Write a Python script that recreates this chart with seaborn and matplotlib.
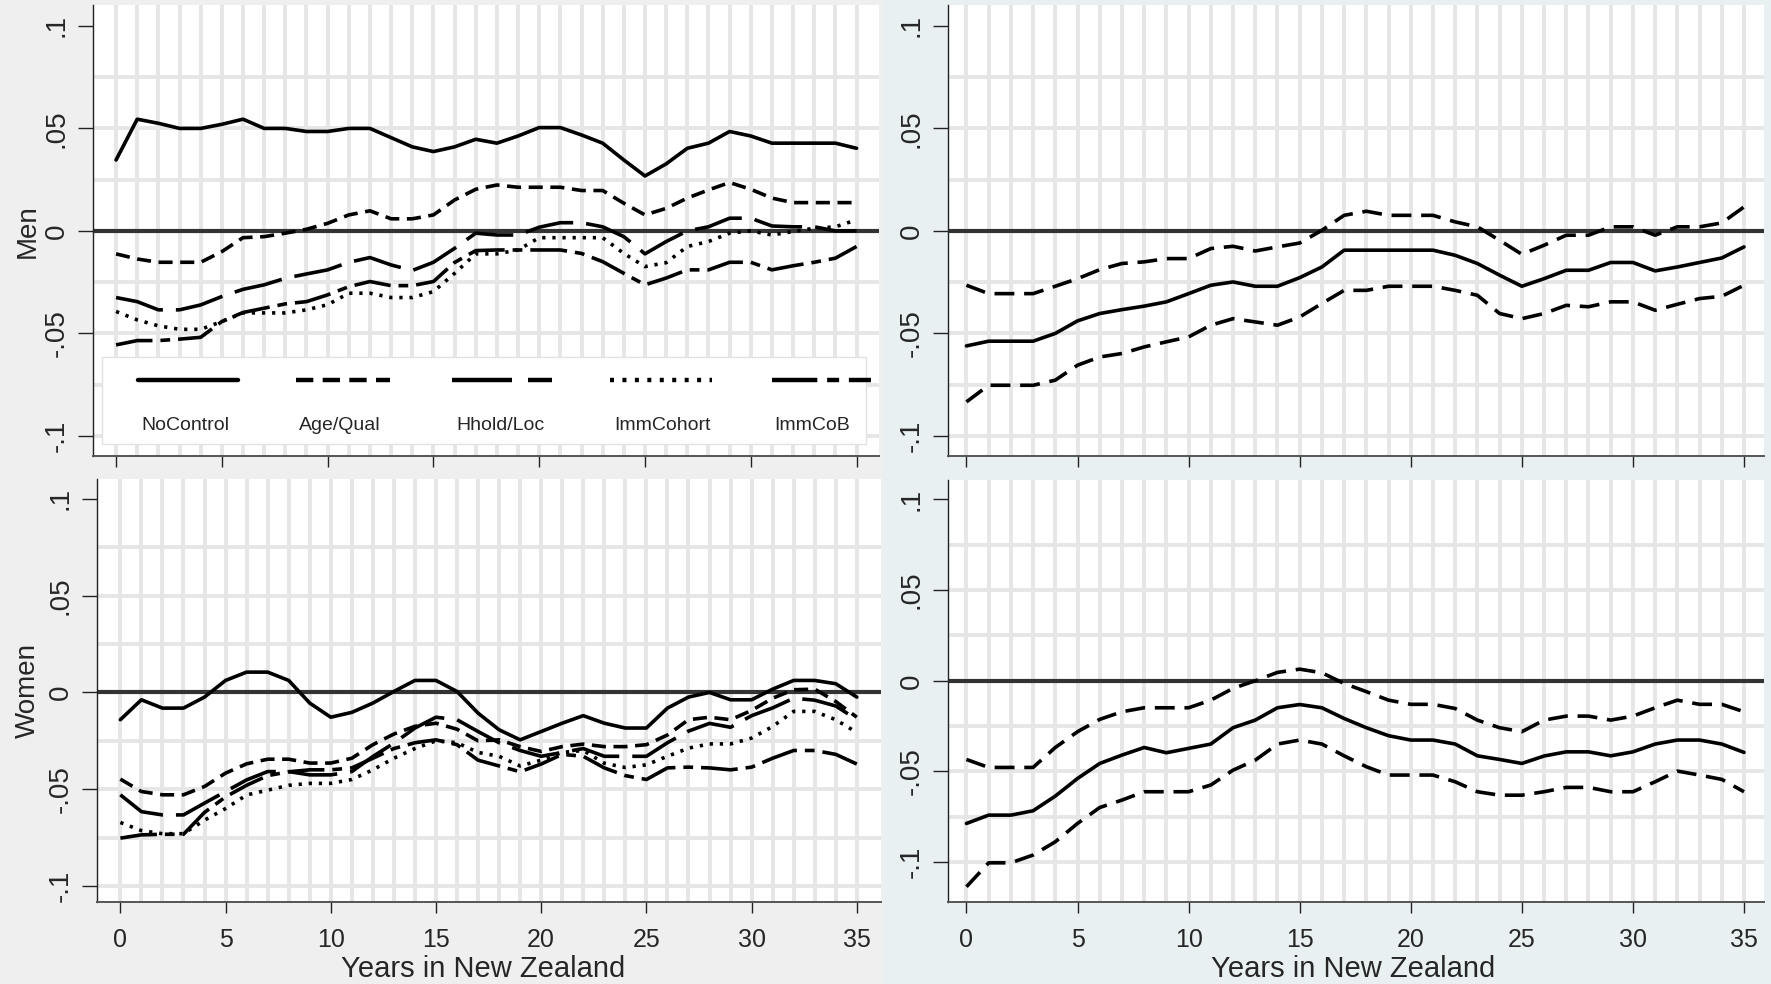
import matplotlib
matplotlib.use("Agg")
import matplotlib.pyplot as plt
import numpy as np
import pandas as pd
import seaborn as sns
from matplotlib.lines import Line2D
from matplotlib.patches import Rectangle

# values (years 0..35)
years = list(range(36))
models = ["NoControl", "Age/Qual", "Hhold/Loc", "ImmCohort", "ImmCoB"]

men_nocontrol = [0.0346, 0.0545, 0.0525, 0.050, 0.050, 0.052, 0.0545, 0.050, 0.050, 0.0485, 0.0485, 0.050,
                 0.050, 0.0455, 0.041, 0.0387, 0.041, 0.0447, 0.0428, 0.0463, 0.0504, 0.0504, 0.0468, 0.0428,
                 0.0346, 0.0268, 0.0327, 0.0403, 0.0428, 0.0485, 0.0463, 0.0428, 0.0428, 0.0428, 0.0428, 0.0403]
men_agequal = [-0.0112, -0.0137, -0.0153, -0.0153, -0.0153, -0.0101, -0.0033, -0.0028, -0.0011, 0.0008, 0.0037, 0.0078,
               0.0098, 0.0059, 0.0059, 0.0078, 0.0151, 0.0203, 0.0224, 0.0213, 0.0213, 0.0213, 0.0197, 0.0197,
               0.0135, 0.0078, 0.011, 0.016, 0.020, 0.0236, 0.0203, 0.016, 0.0138, 0.0138, 0.0138, 0.0138]
men_hholdloc = [-0.0325, -0.0345, -0.0385, -0.0385, -0.0361, -0.032, -0.0285, -0.0263, -0.0231, -0.021, -0.019, -0.0153,
                -0.013, -0.0166, -0.0193, -0.0153, -0.0085, -0.0011, -0.002, -0.002, 0.0018, 0.004, 0.004, 0.002,
                -0.0028, -0.0112, -0.0052, 0.0, 0.002, 0.0062, 0.0062, 0.0024, 0.002, 0.002, 0.0, 0.0]
men_immcohort = [-0.0393, -0.0434, -0.0463, -0.048, -0.048, -0.0442, -0.040, -0.040, -0.040, -0.0385, -0.036, -0.0304,
                 -0.0304, -0.0325, -0.0325, -0.0296, -0.0207, -0.0112, -0.0112, -0.0093, -0.0033, -0.0033, -0.0033, -0.0033,
                 -0.011, -0.0174, -0.0155, -0.0076, -0.0052, -0.0011, 0.0, -0.002, -0.0003, 0.0013, 0.002, 0.0054]
men_immcob = [-0.0556, -0.0535, -0.0535, -0.0528, -0.0519, -0.0442, -0.0398, -0.0377, -0.0356, -0.0345, -0.0312, -0.0272,
              -0.0247, -0.0267, -0.0267, -0.0247, -0.0154, -0.0096, -0.0093, -0.0093, -0.0093, -0.0093, -0.011, -0.015,
              -0.0207, -0.0263, -0.023, -0.019, -0.019, -0.0153, -0.0153, -0.019, -0.017, -0.0153, -0.0133, -0.0076]

women_nocontrol = [-0.0141, -0.0038, -0.0081, -0.0081, -0.0024, 0.0062, 0.0105, 0.0105, 0.0062, -0.0055, -0.0128, -0.0103,
                   -0.0055, 0.0005, 0.0062, 0.0062, 0.0005, -0.0107, -0.0193, -0.0245, -0.0202, -0.0159, -0.012, -0.0159,
                   -0.0184, -0.0184, -0.0081, -0.0024, 0.0, -0.0038, -0.0038, 0.0017, 0.0062, 0.0062, 0.0045, -0.0024]
women_agequal = [-0.0448, -0.0512, -0.0529, -0.0529, -0.0486, -0.0417, -0.0369, -0.0345, -0.0345, -0.0365, -0.0365, -0.034,
                 -0.027, -0.0215, -0.0175, -0.0159, -0.019, -0.025, -0.0245, -0.028, -0.0305, -0.028, -0.0267, -0.028,
                 -0.028, -0.027, -0.022, -0.0141, -0.0128, -0.0141, -0.0093, -0.003, 0.0014, 0.0017, -0.0047, -0.0128]
women_hholdloc = [-0.0529, -0.0616, -0.0633, -0.0633, -0.0572, -0.0512, -0.0452, -0.0409, -0.0409, -0.0426, -0.0426, -0.0409,
                  -0.0331, -0.0262, -0.0184, -0.0128, -0.0141, -0.0202, -0.026, -0.030, -0.033, -0.031, -0.029, -0.033,
                  -0.033, -0.033, -0.026, -0.020, -0.016, -0.018, -0.012, -0.008, -0.003, -0.004, -0.007, -0.014]
women_immcohort = [-0.0672, -0.0714, -0.073, -0.073, -0.066, -0.060, -0.053, -0.0505, -0.048, -0.047, -0.047, -0.045,
                   -0.040, -0.034, -0.029, -0.025, -0.026, -0.031, -0.033, -0.038, -0.035, -0.031, -0.030, -0.0366,
                   -0.0388, -0.0374, -0.033, -0.0288, -0.0266, -0.0266, -0.0236, -0.0176, -0.0098, -0.0098, -0.0141, -0.0207]
women_immcob = [-0.0753, -0.0736, -0.0733, -0.0733, -0.062, -0.054, -0.048, -0.043, -0.041, -0.040, -0.040, -0.039,
                -0.034, -0.029, -0.026, -0.0245, -0.027, -0.035, -0.038, -0.041, -0.037, -0.032, -0.033, -0.039,
                -0.043, -0.045, -0.039, -0.0386, -0.039, -0.040, -0.0386, -0.034, -0.030, -0.030, -0.032, -0.037]

# right panels: ImmCoB estimate with 95% band
men_coef = [-0.0561, -0.0538, -0.0538, -0.0538, -0.050, -0.0439, -0.0403, -0.0384, -0.0367, -0.0346, -0.0306, -0.0265,
            -0.0249, -0.027, -0.027, -0.0228, -0.0176, -0.0094, -0.0094, -0.0094, -0.0094, -0.0094, -0.0119, -0.0159,
            -0.0216, -0.027, -0.0233, -0.0192, -0.0192, -0.0154, -0.0154, -0.0195, -0.0176, -0.0154, -0.0132, -0.0078]
men_upper = [-0.0265, -0.0306, -0.0306, -0.0306, -0.027, -0.0233, -0.0189, -0.0159, -0.0151, -0.0135, -0.0135, -0.0086,
             -0.0075, -0.0098, -0.0078, -0.0059, 0.0003, 0.0076, 0.0096, 0.0076, 0.0076, 0.0076, 0.0044, 0.002,
             -0.0046, -0.0114, -0.007, -0.0021, -0.0021, 0.002, 0.002, -0.0021, 0.002, 0.002, 0.0039, 0.0117]
men_lower = [-0.0834, -0.0753, -0.0753, -0.0753, -0.0728, -0.0655, -0.0615, -0.0598, -0.0566, -0.0541, -0.0517, -0.046,
             -0.0428, -0.0444, -0.046, -0.042, -0.0354, -0.029, -0.029, -0.027, -0.027, -0.027, -0.029, -0.0314,
             -0.0403, -0.0428, -0.0403, -0.0363, -0.037, -0.0346, -0.0346, -0.0387, -0.0358, -0.033, -0.0319, -0.0265]

women_coef = [-0.0787, -0.0741, -0.0741, -0.0717, -0.0636, -0.0539, -0.0456, -0.041, -0.0368, -0.0397, -0.0373, -0.0349,
              -0.0259, -0.0217, -0.0149, -0.0131, -0.0149, -0.0208, -0.0259, -0.0303, -0.0327, -0.0327, -0.0349, -0.0414,
              -0.0434, -0.0456, -0.0415, -0.0392, -0.0392, -0.0414, -0.0392, -0.0349, -0.0327, -0.0327, -0.0349, -0.0395]
women_upper = [-0.0434, -0.0478, -0.0478, -0.0478, -0.0368, -0.0281, -0.0213, -0.0171, -0.0149, -0.0149, -0.0149, -0.0107,
               -0.0042, 0.0, 0.0046, 0.0064, 0.0044, -0.0015, -0.006, -0.0107, -0.013, -0.013, -0.0153, -0.0217,
               -0.0259, -0.0281, -0.0217, -0.0195, -0.0195, -0.0217, -0.0195, -0.0149, -0.0107, -0.013, -0.013, -0.0171]
women_lower = [-0.1136, -0.1004, -0.1004, -0.0961, -0.0888, -0.0787, -0.0699, -0.0658, -0.0612, -0.0612, -0.0612, -0.0575,
               -0.0493, -0.0438, -0.0349, -0.0327, -0.0349, -0.0414, -0.0474, -0.052, -0.052, -0.052, -0.0557, -0.0612,
               -0.0631, -0.0631, -0.0612, -0.0588, -0.0588, -0.0612, -0.0612, -0.0557, -0.0498, -0.052, -0.0544, -0.0612]

# long tables for seaborn
men_df = pd.DataFrame({"year": years * 5,
                       "value": men_nocontrol + men_agequal + men_hholdloc + men_immcohort + men_immcob,
                       "model": [m for m in models for _ in years]})
women_df = pd.DataFrame({"year": years * 5,
                         "value": women_nocontrol + women_agequal + women_hholdloc + women_immcohort + women_immcob,
                         "model": [m for m in models for _ in years]})
bands = ["coef", "upper", "lower"]
men_ci = pd.DataFrame({"year": years * 3, "value": men_coef + men_upper + men_lower,
                       "series": [b for b in bands for _ in years]})
women_ci = pd.DataFrame({"year": years * 3, "value": women_coef + women_upper + women_lower,
                         "series": [b for b in bands for _ in years]})

# line styles (dash lengths in units of line width)
LW = 2.6
model_dashes = {"NoControl": "", "Age/Qual": (3.9, 2.1), "Hhold/Loc": (13.5, 3.6),
                "ImmCohort": (0.9, 1.9), "ImmCoB": (10.2, 2.2, 2.7, 2.2)}
band_dashes = {"coef": "", "upper": (5.5, 2.7), "lower": (5.5, 2.7)}

sns.set_theme(style="white")
plt.rcParams["font.family"] = ["Liberation Sans", "DejaVu Sans"]

W, H = 1771, 984
fig = plt.figure(figsize=(W / 100, H / 100), dpi=100)
fig.patch.set_facecolor("#efefef")
# right column sits on a light blue-grey background
fig.add_artist(Rectangle((883 / W, 0), 1 - 883 / W, 1, transform=fig.transFigure,
                         facecolor="#e8f0f2", edgecolor="none", zorder=-1))


def make_ax(x0, x1, y0, y1):
    return fig.add_axes([x0 / W, 1 - y1 / H, (x1 - x0) / W, (y1 - y0) / H])


ax_tl = make_ax(93, 879, 5, 456)
ax_tr = make_ax(948, 1764, 5, 456)
ax_bl = make_ax(97, 881, 479, 902)
ax_br = make_ax(948, 1764, 480, 902)

sns.lineplot(data=men_df, x="year", y="value", style="model", dashes=model_dashes,
             color="black", lw=LW, legend=False, ax=ax_tl, zorder=3)
sns.lineplot(data=women_df, x="year", y="value", style="model", dashes=model_dashes,
             color="black", lw=LW, legend=False, ax=ax_bl, zorder=3)
sns.lineplot(data=men_ci, x="year", y="value", style="series", dashes=band_dashes,
             color="black", lw=LW, legend=False, ax=ax_tr, zorder=3)
sns.lineplot(data=women_ci, x="year", y="value", style="series", dashes=band_dashes,
             color="black", lw=LW, legend=False, ax=ax_br, zorder=3)

yticks = [-0.1, -0.05, 0, 0.05, 0.1]
ytick_labels = ["-.1", "-.05", "0", ".05", ".1"]
hgrid = [-0.1, -0.075, -0.05, -0.025, 0.025, 0.05, 0.075]


def style_panel(ax, xlim, ylim, show_x):
    ax.set_facecolor("white")
    ax.set_xlim(*xlim)
    ax.set_ylim(*ylim)
    for yr in years:
        ax.axvline(yr, color="#e6e6e6", lw=2.8, zorder=0)
    for g in hgrid:
        ax.axhline(g, color="#e6e6e6", lw=2.8, zorder=0)
    ax.axhline(0, color="#333333", lw=3.0, zorder=2)
    sns.despine(ax=ax)
    ax.spines["left"].set_color("#222222")
    ax.spines["left"].set_linewidth(1.0)
    ax.spines["bottom"].set_color("#555555")
    ax.spines["bottom"].set_linewidth(1.4)
    ax.set_xticks(range(0, 36, 5))
    ax.set_yticks(yticks)
    ax.set_yticklabels(ytick_labels, rotation=90, va="center")
    ax.tick_params(axis="y", direction="out", length=11, width=1, pad=6,
                   labelsize=20, color="#222222", left=True)
    ax.tick_params(axis="x", direction="out", length=8, width=1, pad=11,
                   labelsize=18, color="#222222", bottom=True, labelbottom=show_x)
    ax.set_xlabel("")
    ax.set_ylabel("")


style_panel(ax_tl, (-1.09, 36.06), (-0.1098, 0.1102), False)
style_panel(ax_tr, (-0.83, 35.9), (-0.1098, 0.1102), False)
style_panel(ax_bl, (-1.11, 36.15), (-0.1083, 0.1103), True)
style_panel(ax_br, (-0.83, 35.9), (-0.122, 0.1107), True)

# legend box inside the top-left panel (samples above the labels)
ax_tl.add_patch(Rectangle((0.0115, 0.0266), 0.9715, 0.193, transform=ax_tl.transAxes,
                          facecolor="white", edgecolor="#e2e2e2", lw=1, zorder=4))
leg_x = [(0.057, 0.185), (0.258, 0.378), (0.457, 0.584), (0.658, 0.788), (0.864, 0.99)]
leg_c = [0.117, 0.314, 0.518, 0.725, 0.915]
for m, (xa, xb), xc in zip(models, leg_x, leg_c):
    ln = Line2D([xa, xb], [0.1685, 0.1685], transform=ax_tl.transAxes, color="black",
                lw=LW + 0.6, zorder=5, clip_on=False)
    if model_dashes[m]:
        ln.set_dashes(model_dashes[m])
    ax_tl.add_line(ln)
    ax_tl.text(xc, 0.0687, m, transform=ax_tl.transAxes, ha="center", va="center",
               fontsize=14, zorder=5)

# axis titles
fig.text(28 / W, 1 - 231 / H, "Men", rotation=90, ha="center", va="center", fontsize=20)
fig.text(28 / W, 1 - 691 / H, "Women", rotation=90, ha="center", va="center", fontsize=20)
fig.text(483 / W, 1 - 969 / H, "Years in New Zealand", ha="center", va="center", fontsize=21)
fig.text(1353 / W, 1 - 969 / H, "Years in New Zealand", ha="center", va="center", fontsize=21)

fig.savefig("out.png", dpi=100, facecolor=fig.get_facecolor())
